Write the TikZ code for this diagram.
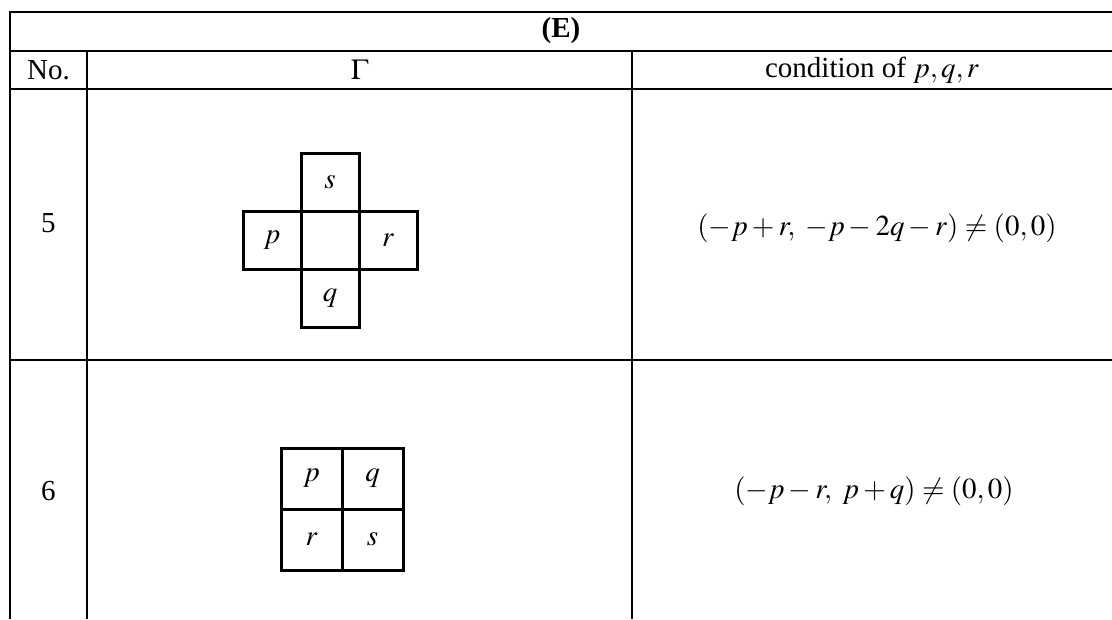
\documentclass[tikz,border=0pt]{standalone}
\usepackage{mathptmx}
\usepackage[no-math]{fontspec}
\setmainfont{Liberation Serif}
\usetikzlibrary{positioning}

\begin{document}
\begin{tikzpicture}[x=1pt,y=-1pt,
    every node/.style={font=\fontsize{29}{34}\selectfont},
    rule/.style={line width=1.6pt},
    cell/.style={rectangle,draw=black,line width=3pt,minimum size=58pt,inner sep=0pt,outer sep=0pt}]
    \useasboundingbox (0,0) rectangle (1112,619);
      % table rules
      \draw[rule] (10,619) -- (10,12) -- (1112,12);
      \foreach \y in {51,89,360}
          \draw[rule] (10,\y) -- (1112,\y);
      \foreach \x in {87,632}
          \draw[rule] (\x,51) -- (\x,619);
      % header
      \node (head) at (561,31) {\textbf{(E)}};
      \node (no) at (48.5,70) {No.};
      \node (gam) at (359.5,70) {$\Gamma$};
      \node (cond) at (872,70) {condition of $p, q, r$};
      % row 5
      \node (n5) at (48.5,223) {5};
      \coordinate (m5) at (330,240);
      \node[cell,above=29pt of m5] (s5) {$s$};
      \node[cell,left=29pt of m5] (p5) {$p$};
      \node[cell,right=29pt of m5] (r5) {$r$};
      \node[cell,below=29pt of m5] (q5) {$q$};
      \draw[line width=3pt] (p5.north east) rectangle (r5.south west);
      \node (f5) at (877,228) {$(-p+r,\ -p-2q-r)\neq(0,0)$};
      % row 6
      \node (n6) at (48.5,491) {6};
      \node[cell,minimum size=61pt] (p6) at (311.5,478.5) {$p$};
      \node[cell,minimum size=61pt,right=0pt of p6] (q6) {$q$};
      \node[cell,minimum size=61pt,below=0pt of p6] (r6) {$r$};
      \node[cell,minimum size=61pt,right=0pt of r6] (s6) {$s$};
      \node (f6) at (874,491) {$(-p-r,\ p+q)\neq(0,0)$};
\end{tikzpicture}
\end{document}
